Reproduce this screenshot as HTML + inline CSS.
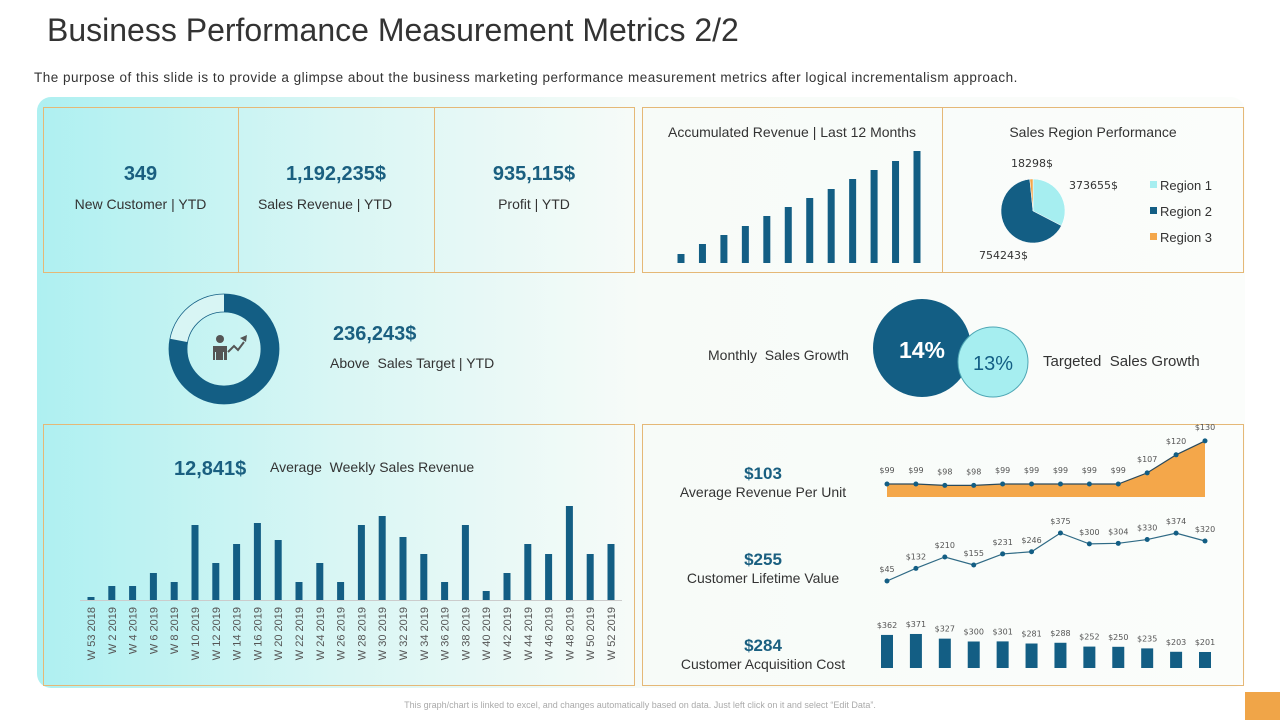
<!DOCTYPE html>
<html><head><meta charset="utf-8">
<style>
*{margin:0;padding:0;box-sizing:border-box}
body{width:1280px;height:720px;position:relative;background:#fff;font-family:"Liberation Sans",sans-serif;overflow:hidden;color:#333}
.abs{position:absolute}
.box{position:absolute;border:1px solid #e5b877}
.num{position:absolute;font-weight:bold;color:#1a5f80;font-size:20px;text-align:center}
.lbl{position:absolute;font-size:14px;color:#333;text-align:center}
</style></head><body>
<div class="abs" style="left:37px;top:97px;width:1208px;height:591px;border-radius:14px;background:linear-gradient(90deg,#aef0f1 0%,#d9f6f4 25%,#f7fbf8 50%,#fbfdfb 100%)"></div>
<div class="abs" style="left:47px;top:12px;font-size:32px;color:#333">Business Performance Measurement Metrics 2/2</div>
<div class="abs" style="left:34px;top:70px;font-size:13.5px;letter-spacing:0.5px;color:#333">The purpose of this slide is to provide a glimpse about the business marketing performance measurement metrics after logical incrementalism approach.</div>

<div class="box" style="left:43px;top:107px;width:592px;height:166px"></div>
<div class="abs" style="left:238px;top:107px;width:1px;height:166px;background:#e5b877"></div>
<div class="abs" style="left:434px;top:107px;width:1px;height:166px;background:#e5b877"></div>
<div class="num" style="left:43px;top:163px;width:195px">349</div>
<div class="lbl" style="left:43px;top:196px;width:195px">New Customer | YTD</div>
<div class="num" style="left:238px;top:163px;width:196px">1,192,235$</div>
<div class="lbl" style="left:227px;top:196px;width:196px">Sales Revenue | YTD</div>
<div class="num" style="left:434px;top:163px;width:200px">935,115$</div>
<div class="lbl" style="left:434px;top:196px;width:200px">Profit | YTD</div>

<div class="box" style="left:642px;top:107px;width:602px;height:166px"></div>
<div class="abs" style="left:942px;top:107px;width:1px;height:166px;background:#e5b877"></div>
<div class="lbl" style="left:642px;top:124px;width:300px">Accumulated Revenue | Last 12 Months</div>
<div class="lbl" style="left:943px;top:124px;width:300px">Sales Region Performance</div>

<div class="num" style="left:333px;top:323px;text-align:left">236,243$</div>
<div class="lbl" style="left:330px;top:355px;text-align:left">Above&nbsp; Sales Target | YTD</div>
<div class="lbl" style="left:708px;top:347px;text-align:left">Monthly&nbsp; Sales Growth</div>
<div class="lbl" style="left:1043px;top:353px;text-align:left;font-size:15px">Targeted&nbsp; Sales Growth</div>

<div class="box" style="left:43px;top:424px;width:592px;height:262px"></div>
<div class="num" style="left:174px;top:458px;text-align:left">12,841$</div>
<div class="lbl" style="left:270px;top:459px;text-align:left">Average&nbsp; Weekly Sales Revenue</div>

<div class="box" style="left:642px;top:424px;width:602px;height:262px"></div>
<div class="num" style="left:663px;top:464px;width:200px;font-size:17px">$103</div>
<div class="lbl" style="left:663px;top:484px;width:200px">Average Revenue Per Unit</div>
<div class="num" style="left:663px;top:550px;width:200px;font-size:17px">$255</div>
<div class="lbl" style="left:663px;top:570px;width:200px">Customer Lifetime Value</div>
<div class="num" style="left:663px;top:636px;width:200px;font-size:17px">$284</div>
<div class="lbl" style="left:663px;top:656px;width:200px">Customer Acquisition Cost</div>

<div class="abs" style="left:0;top:700px;width:1280px;text-align:center;font-size:9px;color:#aaa">This graph/chart is linked to excel, and changes automatically based on data. Just left click on it and select “Edit Data”.</div>
<div class="abs" style="left:1245px;top:692px;width:35px;height:28px;background:#f0a548"></div>

<svg id="svg" class="abs" style="left:0;top:0" width="1280" height="720"></svg>
<script>
const weekLabels=["W 53 2018","W 2 2019","W 4 2019","W 6 2019","W 8 2019","W 10 2019","W 12 2019","W 14 2019","W 16 2019","W 20 2019","W 22 2019","W 24 2019","W 26 2019","W 28 2019","W 30 2019","W 32 2019","W 34 2019","W 36 2019","W 38 2019","W 40 2019","W 42 2019","W 44 2019","W 46 2019","W 48 2019","W 50 2019","W 52 2019"];
const weekValues=[3,14,14,27,18,75,37,56,77,60,18,37,18,75,84,63,46,18,75,9,27,56,46,94,46,56];
const accRevenue=[9,19,28,37,47,56,65,74,84,93,102,112];
const regionNames=["Region 1","Region 2","Region 3"];
const regionValues=[373655,754243,18298];
const arpuValues=[99,99,98,98,99,99,99,99,99,107,120,130];
const clvValues=[45,132,210,155,231,246,375,300,304,330,374,320];
const cacValues=[362,371,327,300,301,281,288,252,250,235,203,201];
const donutShare=0.78;

const NS="http://www.w3.org/2000/svg",svg=document.getElementById('svg');
const DARK="#135e84",CYAN="#a6eef0",ORANGE="#f4a74a";
function mk(t,a,p){const e=document.createElementNS(NS,t);for(const k in a)e.setAttribute(k,a[k]);(p||svg).appendChild(e);return e;}

const wx=i=>91+i*(520/(weekValues.length-1)), wy=v=>600-v;
let l=mk('line',{x1:80,y1:600.5,x2:622,y2:600.5,stroke:'#ccc'});

weekValues.forEach((v,i)=>{
 let r=mk('rect',{x:wx(i)-3.5,y:wy(v),width:7,height:600-wy(v),fill:DARK});
 
 let t=mk('text',{x:0,y:0,transform:`translate(${wx(i)+4},607) rotate(-90)`,'text-anchor':'end','font-size':11,fill:'#555','font-family':'Liberation Sans'});
 t.textContent=weekLabels[i];
});
const ax=i=>681+i*(236/(accRevenue.length-1)), ay=v=>263-v;
accRevenue.forEach((v,i)=>{
 let r=mk('rect',{x:ax(i)-3.5,y:ay(v),width:7,height:v,fill:DARK});
 
});
const cx=1033,cy=211,R=32,tot=regionValues.reduce((a,b)=>a+b,0),pc=[CYAN,DARK,ORANGE];
let ang=0;
regionValues.forEach((v,i)=>{
 const a0=ang,a1=ang+v/tot*2*Math.PI;ang=a1;
 const p=(a)=>[cx+R*Math.sin(a),cy-R*Math.cos(a)];
 const [x0,y0]=p(a0),[x1,y1]=p(a1);
 let s=mk('path',{d:`M${cx},${cy}L${x0},${y0}A${R},${R} 0 ${a1-a0>Math.PI?1:0} 1 ${x1},${y1}Z`,fill:pc[i],stroke:'#fff','stroke-width':0.5});
 
 let sq=mk('rect',{x:1150,y:181+i*26,width:7,height:7,fill:pc[i]});
 
 let t=mk('text',{x:1160,y:190+i*26,'font-size':13,fill:'#333','font-family':'Liberation Sans'});
 t.textContent=regionNames[i];
});
[[1069,189,0],[979,259,1],[1011,167,2]].forEach(([x,y,i])=>{
 let t=mk('text',{x:x,y:y,'font-size':11,fill:'#333','font-family':'DejaVu Sans'});
 t.textContent=regionValues[i]+'$';
});
(function(){const c=224,cyy=349,Ro=55,Ri=37,a=donutShare*2*Math.PI;
 const pt=(r,t)=>[c+r*Math.sin(t),cyy-r*Math.cos(t)];
 let b=mk('circle',{cx:c,cy:cyy,r:(Ro+Ri)/2,fill:'none',stroke:'#d8f5f4','stroke-width':Ro-Ri});
 
 mk('circle',{cx:c,cy:cyy,r:Ro,fill:'none',stroke:DARK,'stroke-width':0.8});
 mk('circle',{cx:c,cy:cyy,r:Ri,fill:'none',stroke:DARK,'stroke-width':0.8});
 const [x0,y0]=pt(Ro,0),[x1,y1]=pt(Ro,a),[x2,y2]=pt(Ri,a),[x3,y3]=pt(Ri,0);
 let d=mk('path',{d:`M${x0},${y0}A${Ro},${Ro} 0 ${a>Math.PI?1:0} 1 ${x1},${y1}L${x2},${y2}A${Ri},${Ri} 0 ${a>Math.PI?1:0} 0 ${x3},${y3}Z`,fill:DARK});
 
 let g=mk('g',{fill:'#555'});
 mk('circle',{cx:220,cy:339,r:4},g);
 mk('path',{d:'M213,346h14v14h-3v-8h-1v8h-7v-8h-1v8h-2z'},g);
 mk('path',{d:'M228,352l6,-6l4,4l6,-8',fill:'none',stroke:'#555','stroke-width':2},g);
 mk('path',{d:'M240,338l7,-3l-1,7z'},g);
})();
let c1=mk('circle',{cx:922,cy:348,r:49,fill:DARK});
let c2=mk('circle',{cx:993,cy:362,r:35,fill:CYAN,stroke:'#4fa7b5','stroke-width':1});
let t1=mk('text',{x:922,y:358,'text-anchor':'middle','font-size':23,'font-weight':'bold',fill:'#fff','font-family':'Liberation Sans'});t1.textContent='14%';
let t2=mk('text',{x:993,y:370,'text-anchor':'middle','font-size':20,fill:DARK,'font-family':'Liberation Sans'});t2.textContent='13%';

const ux=i=>887+i*(318/11);
const arpuY=v=>484-(v-99)*1.39;
let ap='M'+ux(0)+',497 '+arpuValues.map((v,i)=>'L'+ux(i)+','+arpuY(v)).join(' ')+' L'+ux(11)+',497Z';
let area=mk('path',{d:ap,fill:ORANGE});
let al=mk('polyline',{points:arpuValues.map((v,i)=>ux(i)+','+arpuY(v)).join(' '),fill:'none',stroke:'#2b4a5c','stroke-width':1.2});

const clvY=v=>581-(v-45)*0.1455;
let cl=mk('polyline',{points:clvValues.map((v,i)=>ux(i)+','+clvY(v)).join(' '),fill:'none',stroke:'#2f6a85','stroke-width':1.2});

const cacY=v=>668-(v-50)*0.106;
for(let i=0;i<12;i++){
 let p=mk('circle',{cx:ux(i),cy:arpuY(arpuValues[i]),r:2.5,fill:DARK});
 let t=mk('text',{x:ux(i),y:arpuY(arpuValues[i])-11,'text-anchor':'middle','font-size':8,fill:'#555','font-family':'DejaVu Sans'});t.textContent='$'+arpuValues[i];
 let q=mk('circle',{cx:ux(i),cy:clvY(clvValues[i]),r:2.5,fill:DARK});
 let u=mk('text',{x:ux(i),y:clvY(clvValues[i])-9,'text-anchor':'middle','font-size':8,fill:'#555','font-family':'DejaVu Sans'});u.textContent='$'+clvValues[i];
 let r=mk('rect',{x:ux(i)-6,y:cacY(cacValues[i]),width:12,height:668-cacY(cacValues[i]),fill:DARK});
 let w=mk('text',{x:ux(i),y:cacY(cacValues[i])-7,'text-anchor':'middle','font-size':8,fill:'#555','font-family':'DejaVu Sans'});w.textContent='$'+cacValues[i];
}
</script>
</body></html>
